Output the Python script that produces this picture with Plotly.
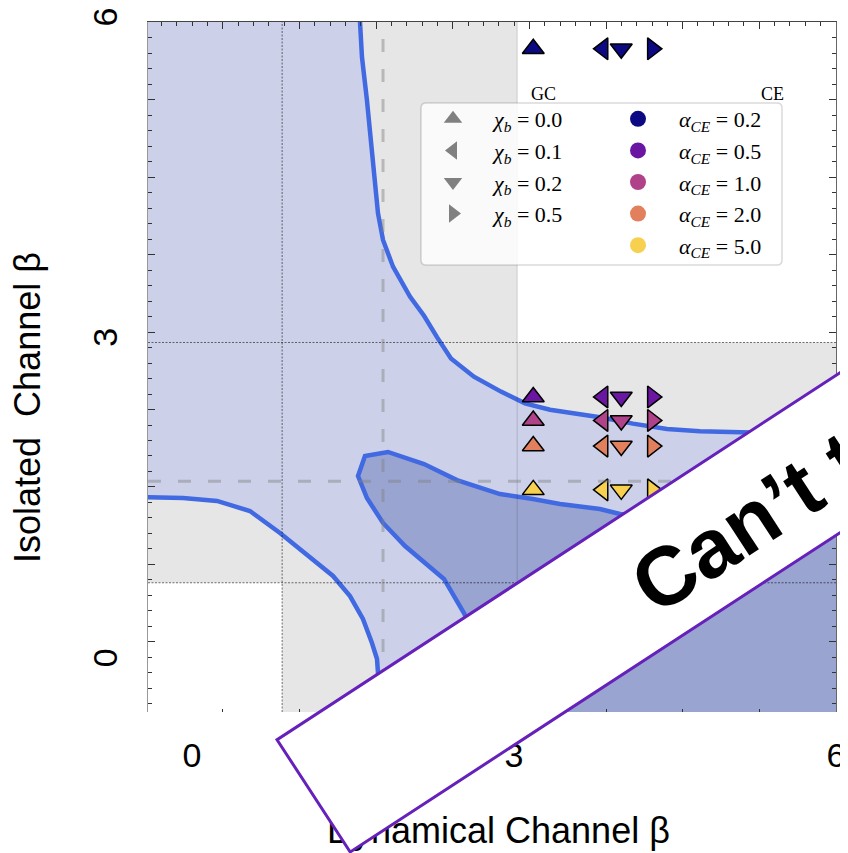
import plotly.graph_objects as go

# ---------------- data ----------------
chi_b_values = [0.0, 0.1, 0.2, 0.5]
alpha_ce_values = [0.2, 0.5, 1.0, 2.0, 5.0]
alpha_ce_colors = ['#0c0a82', '#6a16a2', '#b0428a', '#e2805e', '#f6d04e']
chi_b_symbols = ['triangle-up', 'triangle-left', 'triangle-down', 'triangle-right']

# model points: dynamical-channel beta per chi_b, isolated-channel beta per alpha_CE
beta_dyn_by_chi = [3.18, 3.83, 4.00, 4.29]
beta_iso_by_alpha = [5.75, 2.49, 2.27, 2.03, 1.62]

# upper contour (boundary of the allowed region)
upper_x = [1.56, 1.565, 1.584, 1.630, 1.677, 1.705, 1.733, 1.780, 1.873, 2.031, 2.162,
           2.283, 2.413, 2.627, 2.879, 3.103, 3.336, 3.801, 4.109, 4.426, 4.733, 5.115,
           5.572, 6.0, 6.1]
upper_y = [6.1, 6.00, 5.67, 5.27, 4.80, 4.45, 4.21, 3.96, 3.71, 3.43, 3.25,
           3.05, 2.85, 2.68, 2.54, 2.43, 2.37, 2.30, 2.24, 2.19, 2.17, 2.16,
           2.15, 2.14, 2.135]

# lower-left contour
lower_x = [-0.5, -0.41, -0.084, 0.233, 0.540, 0.820, 1.006, 1.314, 1.472, 1.593,
           1.677, 1.724, 1.733, 1.752, 1.76]
lower_y = [1.553, 1.553, 1.544, 1.516, 1.422, 1.216, 1.066, 0.814, 0.626, 0.411,
           0.186, 0.036, -0.094, -0.46, -0.6]

# inner (overlap) contour
loop_x = [2.90, 2.870, 2.804, 2.721, 2.609, 2.534, 2.348, 2.162, 1.985, 1.780, 1.630,
          1.547, 1.612, 1.826, 2.162, 2.469, 2.870, 3.177, 3.429, 3.801, 3.988, 4.733,
          5.478, 6.0, 6.1]
loop_y = [-0.6, -0.46, -0.254, 0.027, 0.308, 0.467, 0.786, 0.945, 1.094, 1.310, 1.544,
          1.750, 1.937, 1.975, 1.862, 1.712, 1.581, 1.534, 1.488, 1.441, 1.394, 1.319,
          1.263, 1.226, 1.22]

band_dyn = [0.84, 3.03]   # shaded vertical band (dynamical channel)
band_iso = [0.75, 3.00]   # shaded horizontal band (isolated channel)
ref_dyn = 1.78            # dashed reference lines
ref_iso = 1.70

x_ticks = [0, 3, 6]
y_ticks = [0, 3, 6]
x_range = [-0.41, 6.001]
y_range = [-0.46, 6.001]

# ---------------- layout helpers ----------------
# the page body has an 8px margin, so the figure is drawn 8px smaller and
# all page positions below are given in window pixels
BODY = 8
W, H = 848 - BODY, 853 - BODY
M = dict(l=148 - BODY, r=12, t=22 - BODY, b=141)
PLOT_L, PLOT_B = 148, 712
PW, PH = 688, 690


def px2paper(px, py):
    return (px - PLOT_L) / PW, (PLOT_B - py) / PH


LIGHT = '#ccd1e9'
DARK = '#99a4d1'
LINE = '#4169e1'
GRAY = '#e6e6e6'

fig = go.Figure()

# light (allowed) region
light_x = upper_x + [6.1] + lower_x[::-1] + [-0.5]
light_y = upper_y + [-0.6] + lower_y[::-1] + [6.1]
fig.add_trace(go.Scatter(x=light_x, y=light_y, fill='toself', fillcolor=LIGHT, mode='lines',
                         line=dict(width=0), showlegend=False, hoverinfo='skip'))
# dark (overlap) region
dark_x = loop_x + [6.1]
dark_y = loop_y + [-0.6]
fig.add_trace(go.Scatter(x=dark_x, y=dark_y, fill='toself', fillcolor=DARK, mode='lines',
                         line=dict(width=0), showlegend=False, hoverinfo='skip'))
# contour lines
for cx, cy in [(upper_x, upper_y), (lower_x, lower_y), (loop_x, loop_y)]:
    fig.add_trace(go.Scatter(x=cx, y=cy, mode='lines', line=dict(color=LINE, width=4.5),
                             showlegend=False, hoverinfo='skip'))

# model markers
for j, col in enumerate(alpha_ce_colors):
    fig.add_trace(go.Scatter(
        x=beta_dyn_by_chi, y=[beta_iso_by_alpha[j]] * len(beta_dyn_by_chi), mode='markers',
        marker=dict(symbol=chi_b_symbols, size=19, color=col,
                    line=dict(color='black', width=1.5)),
        showlegend=False, hoverinfo='skip'))

# legend entries
for chi, sym in zip(chi_b_values, chi_b_symbols):
    fig.add_trace(go.Scatter(
        x=[None], y=[None], mode='markers',
        marker=dict(symbol=sym, size=16, color='#808080', line=dict(width=0)),
        name=f"<i>χ</i><sub><i>b</i></sub> = {chi:.1f}", legend='legend',
        legendgroup=f'chi{chi}'))
for a, col in zip(alpha_ce_values, alpha_ce_colors):
    fig.add_trace(go.Scatter(
        x=[None], y=[None], mode='markers',
        marker=dict(symbol='circle', size=16, color=col, line=dict(width=0)),
        name=f"<i>α</i><sub><i>CE</i></sub> = {a:.1f}", legend='legend2',
        legendgroup=f'a{a}'))

# dummy traces so the frame axes are drawn
for xa, ya in [('x2', 'y'), ('x3', 'y'), ('x', 'y2'), ('x', 'y3')]:
    fig.add_trace(go.Scatter(x=[None], y=[None], xaxis=xa, yaxis=ya, showlegend=False,
                             hoverinfo='skip'))

DOT = dict(color='rgba(0,0,0,0.55)', width=1, dash='2px,1.5px')
DASH = dict(color='rgba(128,128,128,0.45)', width=3, dash='13px,17px')
shapes = [
    dict(type='rect', xref='x', yref='paper', x0=band_dyn[0], x1=band_dyn[1], y0=0, y1=1,
         fillcolor=GRAY, line=dict(width=0), layer='below'),
    dict(type='rect', xref='paper', yref='y', x0=0, x1=1, y0=band_iso[0], y1=band_iso[1],
         fillcolor=GRAY, line=dict(width=0), layer='below'),
    dict(type='line', xref='x', yref='paper', x0=band_dyn[0], x1=band_dyn[0], y0=0, y1=1,
         line=DOT, layer='above'),
    dict(type='line', xref='paper', yref='y', x0=0, x1=1, y0=band_iso[0], y1=band_iso[0],
         line=DOT, layer='above'),
    dict(type='line', xref='paper', yref='y', x0=0, x1=1, y0=band_iso[1], y1=band_iso[1],
         line=DOT, layer='above'),
    dict(type='line', xref='x', yref='paper', x0=band_dyn[1], x1=band_dyn[1], y0=0, y1=1,
         line=dict(color='rgba(0,0,0,0.15)', width=1), layer='above'),
    dict(type='line', xref='x', yref='paper', x0=ref_dyn, x1=ref_dyn, y0=0, y1=1,
         line=DASH, layer='above'),
    dict(type='line', xref='paper', yref='y', x0=0, x1=1, y0=ref_iso, y1=ref_iso,
         line=DASH, layer='above'),
]

# legend frame (rounded box)
lx0, ly0 = px2paper(421, 103)
lx1, ly1 = px2paper(782, 265)
rx, ry = 5 / PW, 5 / PH
path = (f"M{lx0+rx},{ly0} L{lx1-rx},{ly0} Q{lx1},{ly0} {lx1},{ly0-ry} "
        f"L{lx1},{ly1+ry} Q{lx1},{ly1} {lx1-rx},{ly1} L{lx0+rx},{ly1} "
        f"Q{lx0},{ly1} {lx0},{ly1+ry} L{lx0},{ly0-ry} Q{lx0},{ly0} {lx0+rx},{ly0} Z")
shapes.append(dict(type='path', xref='paper', yref='paper', path=path,
                   fillcolor='rgba(255,255,255,0.8)',
                   line=dict(color='rgba(0,0,0,0.15)', width=1.5), layer='above'))

ann = []
ax_, ay_ = px2paper(498, 830)
ann.append(dict(x=ax_, y=ay_, xref='paper', yref='paper', text='Dynamical Channel β',
                showarrow=False, font=dict(family='Liberation Sans', size=36, color='black'),
                xanchor='center', yanchor='middle'))
ax_, ay_ = px2paper(28, 408)
ann.append(dict(x=ax_, y=ay_, xref='paper', yref='paper', text='Isolated\u00a0 Channel β',
                showarrow=False, textangle=-90,
                font=dict(family='Liberation Sans', size=36, color='black'),
                xanchor='center', yanchor='middle'))
for txt, px, py in [('GC', 543, 94), ('CE', 772, 94)]:
    ax_, ay_ = px2paper(px, py)
    ann.append(dict(x=ax_, y=ay_, xref='paper', yref='paper', text=txt, showarrow=False,
                    font=dict(family='Liberation Serif', size=18, color='black'),
                    xanchor='center', yanchor='middle'))
# banner
ax_, ay_ = px2paper(731.3, 523.2)
ann.append(dict(x=ax_, y=ay_, xref='paper', yref='paper', text=' ', showarrow=False,
                width=994, height=131, bgcolor='white', bordercolor='#6521ba',
                borderwidth=3, borderpad=0, textangle=-33.1,
                xanchor='center', yanchor='middle'))
ax_, ay_ = px2paper(747.8, 522.1)
ann.append(dict(x=ax_, y=ay_, xref='paper', yref='paper', text='<b>Can’t t</b>',
                showarrow=False, textangle=-33.1,
                font=dict(family='Liberation Sans', size=83, color='black'),
                xanchor='center', yanchor='middle'))

frame_tick = dict(ticks='inside', tickcolor='#333', tickwidth=1, showticklabels=False,
                  showgrid=False, zeroline=False, automargin=False)

lgx1, lgy = px2paper(412, 98)
lgx2, _ = px2paper(597, 98)
legend_common = dict(yanchor='top', xanchor='left', y=lgy, bgcolor='rgba(0,0,0,0)',
                     borderwidth=0, itemwidth=72, tracegroupgap=0, itemsizing='trace',
                     font=dict(family='Liberation Serif', size=22, color='black'))

fig.update_layout(
    width=W, height=H, margin=M, plot_bgcolor='white', paper_bgcolor='white',
    showlegend=True,
    legend=dict(x=lgx1, **legend_common),
    legend2=dict(x=lgx2, **legend_common),
    xaxis=dict(range=x_range, tickvals=x_ticks, ticks='', showline=False, showgrid=False,
               zeroline=False, ticklabelstandoff=20, ticklabeloverflow='allow',
               automargin=False,
               tickfont=dict(family='Liberation Sans', size=34, color='black')),
    yaxis=dict(range=y_range, tickvals=y_ticks, ticks='', showline=False, showgrid=False,
               zeroline=False, tickangle=-90, ticklabelstandoff=23,
               ticklabeloverflow='allow', automargin=False,
               tickfont=dict(family='Liberation Sans', size=34, color='black')),
    xaxis2=dict(overlaying='x', side='top', anchor='y', range=x_range, tick0=6.0,
                dtick=0.714, ticklen=7, showline=True, linecolor='#444', linewidth=1.2,
                minor=dict(ticks='inside', ticklen=4, tick0=6.0, dtick=0.1428,
                           tickcolor='#333'), **frame_tick),
    xaxis3=dict(overlaying='x', side='bottom', anchor='y', range=x_range, tick0=6.0,
                dtick=0.714, ticklen=3, showline=False, **frame_tick),
    yaxis2=dict(overlaying='y', side='right', anchor='x', range=y_range, tick0=6.0,
                dtick=0.7255, ticklen=7, showline=True, linecolor='#666', linewidth=1.2,
                minor=dict(ticks='inside', ticklen=4, tick0=6.0, dtick=0.1451,
                           tickcolor='#333'), **frame_tick),
    yaxis3=dict(overlaying='y', side='left', anchor='x', range=y_range, tick0=6.0,
                dtick=0.7255, ticklen=7, showline=True, linecolor='#999', linewidth=1,
                minor=dict(ticks='inside', ticklen=4, tick0=6.0, dtick=0.1451,
                           tickcolor='#333'), **frame_tick),
    shapes=shapes,
    annotations=ann,
)

fig.write_html('out.html')
